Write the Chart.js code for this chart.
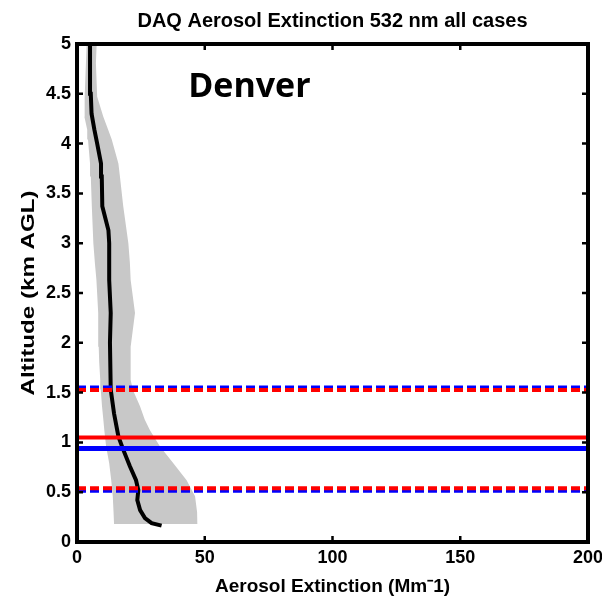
<!DOCTYPE html>
<html>
<head>
<meta charset="utf-8">
<script src="https://cdn.jsdelivr.net/npm/chart.js@4.4.0/dist/chart.umd.min.js"></script>
<style>
  html, body { margin: 0; padding: 0; background: #fff; }
  #wrap { width: 602px; height: 598px; }
</style>
</head>
<body>
<div id="wrap"><canvas id="grafico"></canvas></div>
<script>
// perfil medio (km AGL vs Mm-1)
var altMedia = [0.165, 0.19, 0.24, 0.32, 0.42, 0.52, 0.62, 0.76, 0.94, 1.06, 1.29, 1.53, 2.0, 2.3, 2.63, 3.0, 3.13, 3.37, 3.67, 3.8, 4.0, 4.14, 4.3, 4.5, 5.0];
var extMedia = [33.1, 29.2, 26.6, 24.7, 23.6, 24.0, 23.1, 20.7, 17.9, 16.2, 14.5, 13.2, 12.9, 13.2, 12.6, 12.6, 12.3, 9.9, 9.7, 9.4, 7.9, 6.8, 5.7, 5.4, 5.1];

// banda gris (minimo / maximo)
var altBanda = [0.18, 0.30, 0.46, 0.62, 0.79, 0.96, 1.12, 1.23, 1.36, 1.53, 1.63, 1.80, 1.96, 2.30, 2.63, 2.80, 3.00, 3.37, 3.67, 3.80, 4.04, 4.14, 4.27, 4.47, 4.81, 5.00];
var extMin   = [14.5, 14.3, 14.0, 13.4, 12.6, 11.4, 10.7, 10.3, 9.8, 9.3, 9.1, 8.7, 8.5, 8.3, 7.6, 7.0, 6.4, 5.8, 5.4, 5.1, 4.3, 4.0, 2.9, 3.0, 3.5, 3.8];
var extMax   = [47.1, 47.0, 46.2, 42.9, 37.7, 32.5, 28.6, 26.5, 24.7, 21.8, 21.0, 21.0, 21.0, 22.7, 21.0, 20.7, 20.1, 18.1, 16.8, 16.2, 13.6, 12.2, 10.3, 7.9, 7.4, 7.7];

// alturas de las lineas horizontales
var rojoSolida = 1.05;
var azulSolida = 0.94;
var rojoDiscont = [1.525, 0.54];
var azulDiscont = [1.55, 0.515];

var xTicks = [0, 50, 100, 150, 200];
var yTicks = [0, 0.5, 1, 1.5, 2, 2.5, 3, 3.5, 4, 4.5, 5];

var titulo = 'DAQ Aerosol Extinction 532 nm all cases';
var tituloY = 'Altitude (km AGL)';
var tituloX = 'Aerosol Extinction (Mm\u207B1)';

var puntosMedia = altMedia.map((a, i) => ({ x: extMedia[i], y: a }));
var puntosBanda = altBanda.map((a, i) => ({ x: extMin[i], y: a }));
for (var i = altBanda.length - 1; i >= 0; i--) {
  puntosBanda.push({ x: extMax[i], y: altBanda[i] });
}

function linea(h) {
  return [{ x: xTicks[0], y: h }, { x: xTicks[xTicks.length - 1], y: h }];
}

var datasets = [];
rojoDiscont.forEach(h => datasets.push({ data: linea(h), borderColor: '#ff0000', borderWidth: 4, borderDash: [9, 4] }));
azulDiscont.forEach(h => datasets.push({ data: linea(h), borderColor: '#0000ff', borderWidth: 4, borderDash: [9, 4] }));
datasets.push({ data: linea(rojoSolida), borderColor: '#ff0000', borderWidth: 4 });
datasets.push({ data: linea(azulSolida), borderColor: '#0000ff', borderWidth: 5 });
datasets.push({ data: puntosMedia, borderColor: '#000000', borderWidth: 4 });
datasets.push({ data: puntosBanda, borderWidth: 0, borderColor: 'rgba(0,0,0,0)', backgroundColor: '#c8c8c8', fill: 'shape' });

// marco negro, marcas hacia dentro, titulos y texto "Denver"
var marcoPlugin = {
  id: 'marco',
  afterDatasetsDraw: function(chart) {
    var ctx = chart.ctx, a = chart.chartArea;
    var sx = chart.scales.x, sy = chart.scales.y;
    ctx.save();
    ctx.strokeStyle = '#000';
    ctx.lineWidth = 2.5;
    ctx.beginPath();
    sx.ticks.forEach(t => {
      var px = sx.getPixelForValue(t.value);
      ctx.moveTo(px, a.bottom); ctx.lineTo(px, a.bottom - 6);
      ctx.moveTo(px, a.top); ctx.lineTo(px, a.top + 6);
    });
    sy.ticks.forEach(t => {
      var py = sy.getPixelForValue(t.value);
      ctx.moveTo(a.left, py); ctx.lineTo(a.left + 6, py);
      ctx.moveTo(a.right, py); ctx.lineTo(a.right - 6, py);
    });
    ctx.stroke();
    ctx.lineWidth = 4;
    ctx.strokeRect(a.left, a.top, a.right - a.left, a.bottom - a.top);

    ctx.fillStyle = '#000';
    ctx.font = 'bold 34px "Open Sans"';
    ctx.textAlign = 'left';
    ctx.textBaseline = 'alphabetic';
    ctx.fillText('Denver', sx.getPixelForValue(43.5), sy.getPixelForValue(4.47));

    // titulo centrado sobre el area del grafico
    ctx.font = 'bold 20px "Liberation Sans", Arial';
    ctx.textAlign = 'center';
    ctx.textBaseline = 'middle';
    ctx.fillText(titulo, (a.left + a.right) / 2, 21);

    // titulo del eje y (algo estirado como en el original)
    ctx.translate(29, (a.top + a.bottom) / 2);
    ctx.rotate(-Math.PI / 2);
    ctx.scale(1.27, 1);
    ctx.font = 'bold 19px "Liberation Sans", Arial';
    ctx.fillText(tituloY, 0, 0);
    ctx.restore();
  }
};

var fuenteEje = { family: 'Liberation Sans, Arial', size: 18, weight: 'bold' };

new Chart(document.getElementById('grafico').getContext('2d'), {
  type: 'line',
  data: { datasets: datasets },
  options: {
    responsive: true,
    maintainAspectRatio: false,
    animation: false,
    elements: { point: { radius: 0 }, line: { tension: 0 } },
    layout: { padding: { left: 0, right: 14, top: 44, bottom: 0 } },
    plugins: {
      legend: { display: false },
      tooltip: { enabled: false },
      title: { display: false }
    },
    scales: {
      x: {
        type: 'linear',
        min: 0, max: 200,
        grid: { display: false, drawTicks: false },
        border: { display: false },
        afterBuildTicks: s => { s.ticks = xTicks.map(v => ({ value: v })); },
        afterFit: s => { s.height = 56; s.paddingLeft = 0; s.paddingRight = 0; },
        ticks: { color: '#000', font: fuenteEje, padding: 5, maxRotation: 0, autoSkip: false },
        title: { display: true, text: tituloX, color: '#000', font: { family: 'Liberation Sans, Arial', size: 19, weight: 'bold' }, padding: { top: 0, bottom: 0 } }
      },
      y: {
        type: 'linear',
        min: 0, max: 5,
        grid: { display: false, drawTicks: false },
        border: { display: false },
        afterBuildTicks: s => { s.ticks = yTicks.map(v => ({ value: v })); },
        afterFit: s => { s.width = 77; s.paddingTop = 0; s.paddingBottom = 0; },
        ticks: { color: '#000', font: fuenteEje, padding: 6, autoSkip: false, callback: v => String(v) },
        title: { display: false }
      }
    }
  },
  plugins: [marcoPlugin]
});
</script>
</body>
</html>
